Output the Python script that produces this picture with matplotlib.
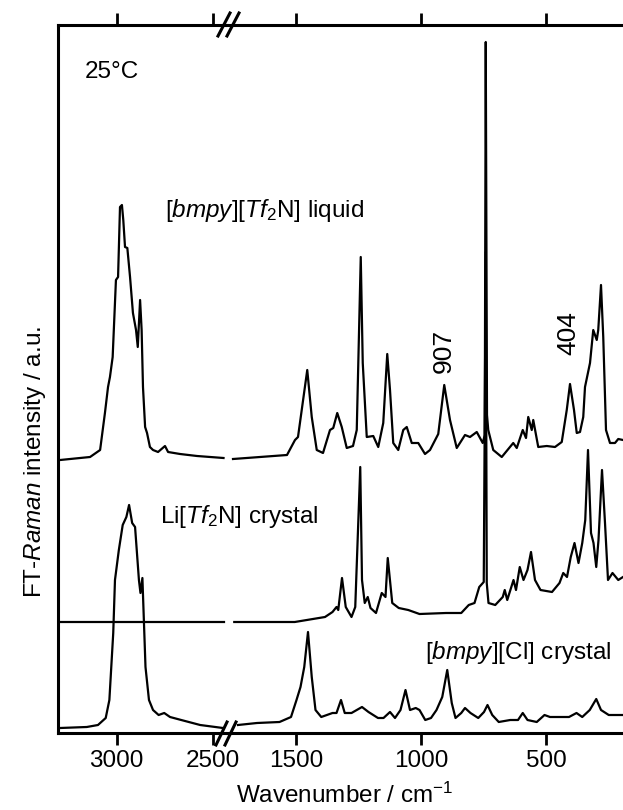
import numpy as np
import matplotlib.pyplot as plt
from matplotlib.lines import Line2D

plt.rcParams['font.family'] = 'Liberation Sans'
plt.rcParams['mathtext.fontset'] = 'custom'
plt.rcParams['mathtext.rm'] = 'Liberation Sans'
plt.rcParams['mathtext.it'] = 'Liberation Sans:italic'

# spectra: (wavenumber, intensity above own baseline)
liq_left = [(3293, 0), (3138, 3), (3086, 10), (3061, 47), (3045, 73), (3035, 83), (3021, 103),
            (3004, 180), (2993, 183), (2983, 253), (2973, 255), (2966, 240), (2957, 213),
            (2945, 212), (2931, 183), (2916, 147), (2900, 130), (2891, 113), (2879, 160),
            (2871, 130), (2864, 73), (2853, 33), (2843, 27), (2828, 13), (2812, 10), (2786, 8),
            (2750, 14), (2734, 8), (2672, 6), (2584, 4), (2447, 2)]
liq_right = [(1752, 1), (1536, 5), (1504, 20), (1492, 23), (1455, 90), (1437, 43), (1417, 10),
             (1392, 7), (1364, 30), (1351, 32), (1335, 47), (1317, 33), (1297, 12), (1272, 14),
             (1257, 30), (1241, 203), (1233, 97), (1217, 23), (1191, 24), (1171, 13), (1151, 37),
             (1135, 106), (1124, 70), (1111, 17), (1091, 10), (1071, 30), (1057, 33), (1037, 17),
             (1011, 17), (984, 6), (964, 10), (931, 26), (907, 75), (884, 40), (857, 12), (824, 25),
             (804, 23), (777, 28), (753, 17), (745, 25), (741, 418), (736, 45), (731, 30), (711, 10),
             (677, 3), (631, 17), (617, 12), (593, 30), (580, 22), (571, 43), (557, 30), (551, 40),
             (531, 13), (497, 14), (464, 13), (437, 18), (417, 50), (404, 76), (388, 50), (377, 27),
             (364, 28), (351, 43), (344, 73), (324, 97), (311, 130), (297, 120), (291, 130),
             (280, 175), (271, 123), (260, 30), (244, 17), (224, 17), (211, 21), (192, 20)]

li_left = [(3293, 0), (3000, 0), (2700, 0), (2447, 0)]
li_right = [(1747, 0), (1505, 0), (1384, 5), (1354, 10), (1338, 15), (1331, 12), (1316, 44),
            (1301, 15), (1278, 5), (1263, 15), (1243, 155), (1236, 42), (1225, 19), (1213, 25),
            (1202, 14), (1180, 9), (1157, 29), (1142, 25), (1133, 64), (1115, 19), (1089, 14),
            (1051, 12), (1006, 8), (900, 9), (839, 9), (809, 17), (786, 19), (767, 35), (749, 40),
            (741, 370), (737, 39), (730, 19), (703, 17), (673, 25), (665, 32), (655, 22), (630, 42),
            (620, 32), (605, 55), (590, 42), (574, 52), (560, 70), (544, 42), (522, 32), (476, 30),
            (446, 39), (431, 49), (416, 45), (401, 65), (386, 79), (370, 59), (355, 79), (343, 102),
            (332, 172), (320, 89), (310, 79), (299, 55), (290, 82), (276, 152), (264, 99), (252, 42),
            (234, 49), (211, 42), (192, 45)]

cl_left = [(3293, 0), (3155, 1), (3097, 3), (3057, 10), (3038, 28), (3018, 95), (3009, 148),
           (2989, 178), (2969, 203), (2950, 211), (2936, 223), (2920, 205), (2905, 201),
           (2885, 148), (2877, 135), (2867, 150), (2851, 61), (2833, 28), (2812, 18), (2783, 13),
           (2754, 15), (2724, 11), (2666, 8), (2568, 3), (2450, 0)]
cl_right = [(1732, 3), (1656, 5), (1566, 6), (1520, 11), (1498, 28), (1482, 41), (1467, 61),
            (1452, 96), (1437, 51), (1422, 18), (1399, 11), (1354, 15), (1338, 15), (1320, 28),
            (1305, 15), (1278, 15), (1236, 21), (1210, 16), (1172, 10), (1150, 10), (1124, 16),
            (1104, 10), (1082, 18), (1062, 38), (1044, 18), (1021, 20), (1006, 18), (983, 8),
            (960, 10), (938, 18), (915, 31), (895, 58), (877, 25), (862, 10), (839, 15), (824, 20),
            (802, 15), (771, 10), (748, 16), (734, 23), (715, 13), (689, 6), (643, 8), (612, 8),
            (593, 15), (574, 8), (537, 6), (506, 13), (484, 11), (446, 11), (408, 11), (378, 15),
            (355, 11), (325, 18), (299, 29), (280, 18), (249, 13), (192, 13)]

offsets = {'liq': 273, 'li': 111, 'cl': 5}

W, H = 623, 810


def px(x, y):
    # pixel position -> figure fraction
    return x / W, 1 - y / H


fig = plt.figure(figsize=(W / 100, H / 100), dpi=100)
xl, xb = 58 / W, 227 / W
yb, yt = 1 - 733 / H, 1 - 25 / H
ax1 = fig.add_axes([xl, yb, xb - xl, yt - yb])
ax2 = fig.add_axes([xb, yb, 1 - xb, yt - yb])

spectra = [(liq_left, liq_right, offsets['liq']),
           (li_left, li_right, offsets['li']),
           (cl_left, cl_right, offsets['cl'])]
for left, right, off in spectra:
    wl, il = np.array(left).T
    wr, ir = np.array(right).T
    ax1.plot(wl, il + off, color='black', lw=1.6)
    ax2.plot(wr, ir + off, color='black', lw=1.6)

ax1.set_xlim(3304, 2429)
ax2.set_xlim(1776, 192)
for ax in (ax1, ax2):
    ax.set_ylim(0, 708)
    ax.set_yticks([])
    ax.tick_params(axis='x', direction='out', top=True, bottom=True, length=8.5,
                   width=2, labelsize=17.5, pad=4)
    for s in ax.spines.values():
        s.set_linewidth(2.2)
ax1.set_xticks([3000, 2500])
ax2.set_xticks([1500, 1000, 500])
ax1.spines['right'].set_visible(False)
ax2.spines['left'].set_visible(False)
ax2.spines['right'].set_visible(False)

# break marks on the top and bottom axis lines
for (xa, ya), (xc, yc) in [((218, 36), (230, 13)), ((227, 36), (239, 13)),
                           ((216, 745), (227, 722)), ((225, 745), (236, 722))]:
    fig.add_artist(Line2D([xa / W, xc / W], [1 - ya / H, 1 - yc / H], color='black', lw=2.2))

fs = 17.5
fig.text(*px(85, 72), '25°C', fontsize=fs, va='center')
fig.text(*px(165, 210), r'[$\mathit{bmpy}$][$\mathit{Tf}_2$N] liquid', fontsize=fs, va='center')
fig.text(*px(160, 517), r'Li[$\mathit{Tf}_2$N] crystal', fontsize=fs, va='center')
fig.text(*px(425, 653), r'[$\mathit{bmpy}$][Cl] crystal', fontsize=fs, va='center')
fig.text(*px(444, 351), '907', fontsize=19, rotation=90, ha='center', va='center')
fig.text(*px(568, 333), '404', fontsize=19, rotation=90, ha='center', va='center')
fig.text(*px(35, 462), r'FT-$\mathit{Raman}$ intensity / a.u.', fontsize=fs,
         rotation=90, ha='center', va='center')
fig.text(*px(345, 795), r'Wavenumber / cm$^{-1}$', fontsize=fs, ha='center', va='center')

fig.savefig('out.png', dpi=100)
